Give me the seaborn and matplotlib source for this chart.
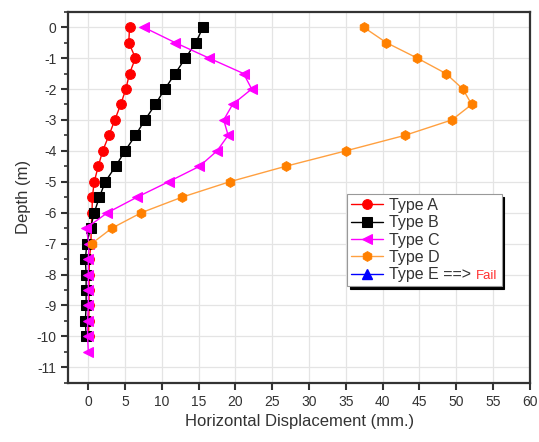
import matplotlib
matplotlib.use("Agg")
import matplotlib.pyplot as plt
from matplotlib.ticker import MultipleLocator
from matplotlib.offsetbox import TextArea
import seaborn as sns

# Depth levels (m)
depth_a = [0, -0.5, -1, -1.5, -2, -2.5, -3, -3.5, -4, -4.5, -5, -5.5, -6, -6.5, -7, -7.5, -8, -8.5, -9, -9.5, -10]
depth_b = depth_a
depth_c = depth_a + [-10.5]
depth_d = [0, -0.5, -1, -1.5, -2, -2.5, -3, -3.5, -4, -4.5, -5, -5.5, -6, -6.5, -7]

# Horizontal displacement (mm.)
disp_a = [5.6, 5.5, 6.4, 5.6, 5.1, 4.4, 3.6, 2.8, 1.95, 1.35, 0.8, 0.55, 0.5, 0.4, 0.35, 0.15, 0.1, 0.1, 0.1, 0.05, 0.05]
disp_b = [15.6, 14.6, 13.2, 11.8, 10.4, 9.1, 7.7, 6.4, 5.0, 3.7, 2.3, 1.5, 0.8, 0.3, -0.2, -0.4, -0.3, -0.3, -0.3, -0.4, -0.3]
disp_c = [7.5, 11.8, 16.4, 21.1, 22.2, 19.6, 18.4, 19.0, 17.5, 15.1, 10.9, 6.6, 2.6, -0.3, 0.1, 0.0, 0.0, 0.0, 0.0, -0.1, -0.1, 0.0]
disp_d = [37.4, 40.5, 44.7, 48.6, 50.9, 52.1, 49.4, 43.0, 35.0, 26.8, 19.2, 12.7, 7.2, 3.2, 0.45]

labels = ["Type A", "Type B", "Type C", "Type D", "Type E ==>"]

sns.set_style("ticks")
plt.rcParams["font.family"] = ["Liberation Sans", "DejaVu Sans"]
plt.rcParams["axes.unicode_minus"] = False

fig = plt.figure(figsize=(5.39, 4.42), dpi=100)
ax = fig.add_axes([0.127, 0.134, 0.856, 0.8395])

series = [
    (disp_a, depth_a, "#ff0000", "#ff0000", "o", labels[0]),
    (disp_b, depth_b, "#000000", "#000000", "s", labels[1]),
    (disp_c, depth_c, "#ff00ff", "#ff00ff", "<", labels[2]),
    (disp_d, depth_d, "#ff8000", "#ffa040", "h", labels[3]),
]
for x, y, col, lcol, mk, lab in series:
    sns.lineplot(x=x, y=y, ax=ax, sort=False, estimator=None, color=lcol,
                 marker=mk, markersize=7, markerfacecolor=col, markeredgecolor=col,
                 linewidth=1, label=lab)
# Type E failed - legend entry only
ax.plot([], [], color="#0000ff", marker="^", markersize=7, linewidth=1, label=labels[4])

ax.set_xlim(-2.7, 60)
ax.set_ylim(-11.5, 0.5)
ax.xaxis.set_major_locator(MultipleLocator(5))
ax.yaxis.set_major_locator(MultipleLocator(1))
ax.yaxis.set_minor_locator(MultipleLocator(0.5))
ax.tick_params(axis="both", which="major", direction="out", length=5, width=1.5, labelsize=10, colors="#333333")
ax.tick_params(axis="y", which="minor", direction="out", length=3, width=1.2, color="#333333")
ax.grid(True, which="major", color="#e4e4e4", linewidth=0.9)
for s in ax.spines.values():
    s.set_linewidth(1.6)
    s.set_color("#333333")

ax.set_xlabel("Horizontal Displacement (mm.)", fontsize=12, color="#333333")
ax.set_ylabel("Depth (m)", fontsize=12, color="#333333")

leg = ax.legend(loc="upper left", bbox_to_anchor=(0.604, 0.509), borderaxespad=0,
                fancybox=False, shadow={"color": "black", "alpha": 1},
                fontsize=11.5, handlelength=2.0, handletextpad=0.35,
                labelspacing=0.15, borderpad=0.25, framealpha=1)
leg.get_frame().set_edgecolor("#999999")
leg.get_frame().set_linewidth(0.8)
for t in leg.get_texts():
    t.set_color("#333333")

# red "Fail" appended to the Type E legend row
fail = TextArea("Fail", textprops=dict(color="#ff3030", fontsize=9.5,
                                       family=["Liberation Sans", "DejaVu Sans"]))
fail.set_figure(fig)
row = leg._legend_handle_box.get_children()[0].get_children()[-1]
row.get_children().append(fail)

fig.savefig("out.png", dpi=100)
